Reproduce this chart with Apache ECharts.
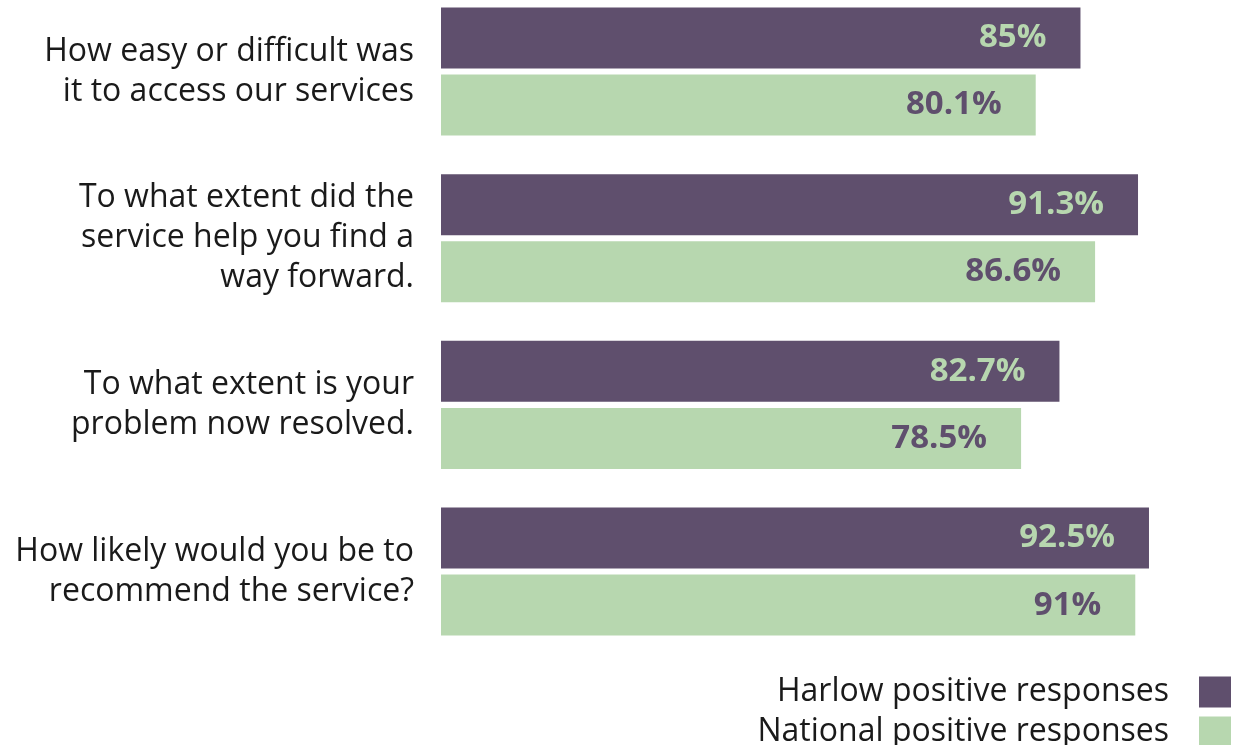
<!DOCTYPE html>
<html>
<head>
<meta charset="utf-8">
<script src="https://cdn.jsdelivr.net/npm/echarts@6/dist/echarts.min.js"></script>
<style>
  html, body { margin: 0; padding: 0; background: #ffffff; }
  #chart { width: 1242px; height: 745px; }
</style>
</head>
<body>
<div id="chart"></div>
<script>
// Survey questions (one category per question)
const questions = [
  'How easy or difficult was\nit to access our services',
  'To what extent did the\nservice help you find a\nway forward.',
  'To what extent is your\nproblem now resolved.',
  'How likely would you be to\nrecommend the service?'
];
// Share of positive responses, percent
const harlowValues = [85, 91.3, 82.7, 92.5];
const nationalValues = [80.1, 86.6, 78.5, 91];
const seriesNames = ['Harlow positive responses', 'National positive responses'];

const PURPLE = '#5f4f6d';
const GREEN = '#b7d7af';

const chart = echarts.init(document.getElementById('chart'), null, { renderer: 'canvas' });

function valueLabel(color) {
  return {
    show: true,
    position: 'insideRight',
    distance: 34,
    color: color,
    fontFamily: '"Open Sans", sans-serif',
    fontWeight: 'bold',
    fontSize: 33,
    formatter: p => p.value + '%'
  };
}

chart.setOption({
  animation: false,
  backgroundColor: '#ffffff',
  grid: {
    left: 441, top: -11.8, width: 776.5, height: 666.7,
    containLabel: false,
    outerBoundsMode: 'none'
  },
  xAxis: {
    type: 'value',
    min: 15,
    max: 100,
    show: false
  },
  yAxis: {
    type: 'category',
    data: questions,
    inverse: true,
    axisLine: { show: false },
    axisTick: { show: false },
    splitLine: { show: false },
    axisLabel: {
      margin: 27,
      color: '#1a1a1a',
      fontFamily: '"Open Sans", sans-serif',
      fontSize: 32,
      lineHeight: 40,
      align: 'right'
    }
  },
  legend: {
    orient: 'vertical',
    right: 11,
    top: 676,
    height: 120,
    padding: 0,
    align: 'right',
    itemWidth: 32,
    itemHeight: 31,
    itemGap: 8,
    icon: 'rect',
    textStyle: {
      color: '#1a1a1a',
      fontFamily: '"Open Sans", sans-serif',
      fontSize: 32,
      padding: [0, 25, 0, 0]
    },
    data: seriesNames
  },
  series: [
    {
      name: seriesNames[0],
      type: 'bar',
      data: harlowValues,
      barWidth: 61,
      barGap: '10%',
      itemStyle: { color: PURPLE },
      label: valueLabel(GREEN)
    },
    {
      name: seriesNames[1],
      type: 'bar',
      data: nationalValues,
      barWidth: 61,
      barGap: '10%',
      itemStyle: { color: GREEN },
      label: valueLabel(PURPLE)
    }
  ]
});
</script>
</body>
</html>
